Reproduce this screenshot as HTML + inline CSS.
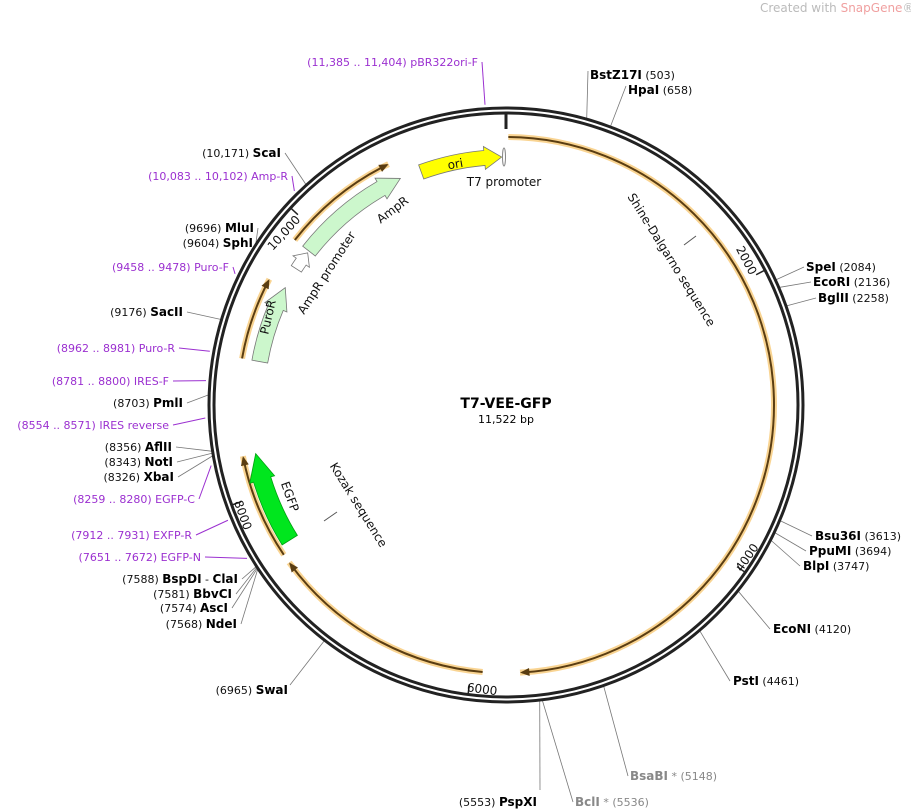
<!DOCTYPE html>
<html><head><meta charset="utf-8">
<style>
html,body{margin:0;padding:0;background:#fff;}
svg{display:block;font-family:"DejaVu Sans","Liberation Sans",sans-serif;}
.n{font-size:11px;fill:#111;}
.b{font-weight:bold;font-size:12px;fill:#000;}
.p{font-size:11px;fill:#9b30d0;}
.g{font-size:11px;fill:#888;}
.gb{font-size:12px;font-weight:bold;fill:#888;}
.f{font-size:12px;fill:#111;}
</style></head>
<body>
<svg id="s" width="911" height="809" viewBox="0 0 911 809" xmlns="http://www.w3.org/2000/svg">
<g id="lines" stroke="#777" stroke-width="0.8" fill="none"></g>
<g id="plines" stroke="#9b30d0" stroke-width="1" fill="none"></g>
<circle cx="506" cy="405" r="297" fill="none" stroke="#222" stroke-width="3"/>
<circle cx="506" cy="405" r="292" fill="none" stroke="#222" stroke-width="3"/>
<circle cx="506" cy="405" r="294.5" fill="none" stroke="#fff" stroke-width="1.2"/>
<line x1="506" y1="113" x2="506" y2="129" stroke="#222" stroke-width="3"/>
<g id="feat"></g>
<g id="ticks"></g>

<text x="760" y="12" font-size="12" fill="#bbb">Created with <tspan fill="#f0a0a0">SnapGene</tspan>®</text>

<text x="506" y="408" text-anchor="middle" font-size="14" font-weight="bold">T7-VEE-GFP</text>
<text x="506" y="423" text-anchor="middle" font-size="11">11,522 bp</text>

<text x="504" y="186" text-anchor="middle" class="f">T7 promoter</text>
<ellipse cx="504" cy="157" rx="1.5" ry="9" fill="none" stroke="#888" stroke-width="1"/>
<text transform="translate(668,262) rotate(58)" text-anchor="middle" class="f">Shine-Dalgarno sequence</text>
<line x1="684" y1="245" x2="696" y2="236" stroke="#555" stroke-width="1"/>
<text transform="translate(355,507) rotate(58)" text-anchor="middle" class="f">Kozak sequence</text>
<line x1="324" y1="521" x2="337" y2="512" stroke="#555" stroke-width="1"/>
<text transform="translate(395,213) rotate(-37)" text-anchor="middle" class="f">AmpR</text>
<text transform="translate(330,275) rotate(-57)" text-anchor="middle" class="f">AmpR promoter</text>
<text transform="translate(272,318) rotate(-77)" text-anchor="middle" class="f">PuroR</text>
<text transform="translate(286,498) rotate(70)" text-anchor="middle" class="f">EGFP</text>
<text transform="translate(456,168) rotate(-10)" text-anchor="middle" class="f">ori</text>

<g text-anchor="end">
<text x="478" y="66" class="p">(11,385 .. 11,404)  pBR322ori-F</text>
<text x="281" y="157"><tspan class="n">(10,171)  </tspan><tspan class="b">ScaI</tspan></text>
<text x="288" y="180" class="p">(10,083 .. 10,102)  Amp-R</text>
<text x="254" y="232"><tspan class="n">(9696)  </tspan><tspan class="b">MluI</tspan></text>
<text x="253" y="247"><tspan class="n">(9604)  </tspan><tspan class="b">SphI</tspan></text>
<text x="229" y="271" class="p">(9458 .. 9478)  Puro-F</text>
<text x="183" y="316"><tspan class="n">(9176)  </tspan><tspan class="b">SacII</tspan></text>
<text x="175" y="352" class="p">(8962 .. 8981)  Puro-R</text>
<text x="169" y="385" class="p">(8781 .. 8800)  IRES-F</text>
<text x="183" y="407"><tspan class="n">(8703)  </tspan><tspan class="b">PmlI</tspan></text>
<text x="169" y="429" class="p">(8554 .. 8571)  IRES reverse</text>
<text x="172" y="451"><tspan class="n">(8356)  </tspan><tspan class="b">AflII</tspan></text>
<text x="173" y="466"><tspan class="n">(8343)  </tspan><tspan class="b">NotI</tspan></text>
<text x="174" y="481"><tspan class="n">(8326)  </tspan><tspan class="b">XbaI</tspan></text>
<text x="195" y="503" class="p">(8259 .. 8280)  EGFP-C</text>
<text x="192" y="539" class="p">(7912 .. 7931)  EXFP-R</text>
<text x="201" y="561" class="p">(7651 .. 7672)  EGFP-N</text>
<text x="238" y="583"><tspan class="n">(7588)  </tspan><tspan class="b">BspDI</tspan><tspan class="n"> - </tspan><tspan class="b">ClaI</tspan></text>
<text x="232" y="598"><tspan class="n">(7581)  </tspan><tspan class="b">BbvCI</tspan></text>
<text x="228" y="612"><tspan class="n">(7574)  </tspan><tspan class="b">AscI</tspan></text>
<text x="237" y="628"><tspan class="n">(7568)  </tspan><tspan class="b">NdeI</tspan></text>
<text x="288" y="694"><tspan class="n">(6965)  </tspan><tspan class="b">SwaI</tspan></text>
<text x="537" y="806"><tspan class="n">(5553)  </tspan><tspan class="b">PspXI</tspan></text>
</g>
<g>
<text x="590" y="79"><tspan class="b">BstZ17I</tspan><tspan class="n">  (503)</tspan></text>
<text x="628" y="94"><tspan class="b">HpaI</tspan><tspan class="n">  (658)</tspan></text>
<text x="806" y="271"><tspan class="b">SpeI</tspan><tspan class="n">  (2084)</tspan></text>
<text x="813" y="286"><tspan class="b">EcoRI</tspan><tspan class="n">  (2136)</tspan></text>
<text x="818" y="302"><tspan class="b">BglII</tspan><tspan class="n">  (2258)</tspan></text>
<text x="815" y="540"><tspan class="b">Bsu36I</tspan><tspan class="n">  (3613)</tspan></text>
<text x="809" y="555"><tspan class="b">PpuMI</tspan><tspan class="n">  (3694)</tspan></text>
<text x="803" y="570"><tspan class="b">BlpI</tspan><tspan class="n">  (3747)</tspan></text>
<text x="773" y="633"><tspan class="b">EcoNI</tspan><tspan class="n">  (4120)</tspan></text>
<text x="733" y="685"><tspan class="b">PstI</tspan><tspan class="n">  (4461)</tspan></text>
<text x="630" y="780"><tspan class="gb">BsaBI</tspan><tspan class="g"> *  (5148)</tspan></text>
<text x="575" y="806"><tspan class="gb">BclI</tspan><tspan class="g"> *  (5536)</tspan></text>
</g>
<g id="tlab" font-size="12" fill="#111">
<text id="t2000">2000</text><text id="t4000">4000</text><text id="t6000">6000</text><text id="t8000">8000</text><text id="t10000">10,000</text>
</g>
</svg>
<script>
var cx=506,cy=405,N=11522,NS="http://www.w3.org/2000/svg";
function pt(r,a){var t=a*Math.PI/180;return [cx+r*Math.sin(t),cy-r*Math.cos(t)];}
function el(p,tag,at){var e=document.createElementNS(NS,tag);for(var k in at)e.setAttribute(k,at[k]);document.getElementById(p).appendChild(e);return e;}
function arc(r,a1,a2){var p1=pt(r,a1),p2=pt(r,a2),sw=a2>a1?1:0,lg=Math.abs(a2-a1)>180?1:0;return "M"+p1+" A"+r+" "+r+" 0 "+lg+" "+sw+" "+p2;}
function feature(a1,a2,r,w,h,fill,stroke){var s=a2>a1?1:-1,b=a2-s*h;var ro=r+w/2,ri=r-w/2;
 var d=arc(ro,a1,b)+" L"+pt(ro+4,b)+" L"+pt(r,a2)+" L"+pt(ri-4,b)+" L"+pt(ri,b)+" "+arc(ri,b,a1).replace("M","L")+" Z";
 el("feat","path",{d:d,fill:fill,stroke:stroke,"stroke-width":0.8});}
function oarc(a1,a2){var r=268;el("feat","path",{d:arc(r,a1,a2),fill:"none",stroke:"#f7c56e","stroke-width":6,"stroke-opacity":0.75});
 var s=a2>a1?1:-1,b=a2-s*0.4;el("feat","path",{d:arc(r,a1,b),fill:"none",stroke:"#5a3d12","stroke-width":2});
 var bb=a2-s*2;el("feat","path",{d:"M"+pt(r,a2)+" L"+pt(r+4,bb)+" L"+pt(r-4,bb)+" Z",fill:"#5a3d12"});}
oarc(0.5,177);oarc(185,234);oarc(236,259);oarc(280,298);oarc(308,334);
feature(340,359,248,15,4,"#ffff00","#777");
feature(308,335,250,16,5,"#ccf7cc","#777");
feature(303,307.5,250,12,2.5,"#fff","#777");
feature(280,298,250,16,5,"#ccf7cc","#777");
feature(238,259,255,18,6,"#00e61e","#00a010");
[2000,4000,6000,8000,10000].forEach(function(v){var a=v/N*360;var p1=pt(291,a),p2=pt(282,a);
 el("ticks","line",{x1:p1[0],y1:p1[1],x2:p2[0],y2:p2[1],stroke:"#222","stroke-width":1.5});
 var left=(a>90&&a<270);var rot=left?a-180:a;
 var t=document.getElementById("t"+v);var q;
 if(left){q=pt(289,a+0.4);t.setAttribute("text-anchor","start");}
 else{q=pt(276,a-0.4);t.setAttribute("text-anchor","end");}
 t.setAttribute("transform","translate("+q[0]+","+q[1]+") rotate("+rot+")");});
var L=[[503,588,71],[658,626,86],[2084,804,267],[2136,811,282],[2258,816,298],[3613,812,536],[3694,806,551],[3747,800,566],[4120,770,629],[4461,730,681],[5148,628,776],[5536,573,802],[5553,540,790],
[10171,285,153],[9696,258,228],[9604,257,243],[9176,187,312],[8703,187,403],[8356,176,447],[8343,177,462],[8326,178,477],[7588,242,579],[7581,236,594],[7574,232,608],[7568,241,624],[6965,290,685]];
L.forEach(function(v){var a=v[0]/N*360,p=pt(298,a);el("lines","path",{d:"M"+p+" L"+v[1]+","+v[2]});});
var P=[[11394,482,62],[10092,292,176],[9468,233,267],[8971,179,348],[8790,173,381],[8562,173,425],[8270,199,499],[7921,196,535],[7661,205,557]];
P.forEach(function(v){var a=v[0]/N*360,p=pt(301,a);el("plines","path",{d:"M"+p+" L"+v[1]+","+v[2]});});
</script>
</body></html>
